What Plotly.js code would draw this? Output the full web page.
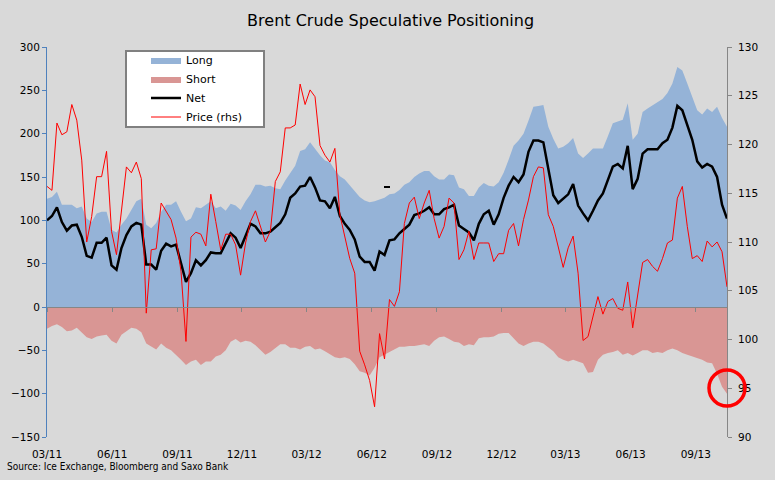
<!DOCTYPE html>
<html>
<head>
<meta charset="utf-8">
<script src="https://cdn.plot.ly/plotly-3.0.1.min.js"></script>
<style>html,body{margin:0;padding:0;background:#D9D9D9;}#chart{width:775px;height:480px;}</style>
</head>
<body>
<div id="chart"></div>
<script>
// Weekly observations (Tuesdays) starting 2011-03-01
const startDate = '2011-03-01';
const weeks = 138;

const longPos = [
125,127,133,118,118,118,114,116,102,98,
108,110,110,89,86,95,102,112,122,125,
95,91,97,110,118,118,122,110,99,102,
115,114,118,122,114,116,111,119,117,112,
122,130,141,141,139,140,137,136,146,155,
163,180,182,190,182,175,169,167,158,151,
147,140,133,127,123,121,122,124,126,130,
131,135,141,144,150,154,157,157,151,147,
147,153,152,138,136,128,128,138,143,140,
139,144,155,170,186,192,200,215,231,232,
233,208,194,183,185,189,195,177,172,177,
183,183,183,197,212,214,216,235,193,200,
225,229,233,237,240,247,258,277,273,258,
243,227,222,229,225,231,218,208
];

const shortPos = [
-25,-22,-20,-23,-28,-27,-24,-29,-35,-37,
-34,-33,-32,-39,-42,-32,-28,-24,-25,-29,
-42,-46,-49,-42,-47,-50,-55,-61,-67,-63,
-61,-67,-63,-63,-57,-55,-50,-40,-37,-41,
-39,-40,-44,-50,-55,-52,-48,-43,-43,-47,
-47,-49,-46,-45,-49,-48,-51,-55,-58,-59,
-58,-60,-66,-74,-76,-79,-70,-58,-55,-52,
-49,-46,-46,-45,-45,-44,-43,-45,-39,-35,
-34,-37,-40,-41,-45,-43,-44,-36,-35,-35,
-34,-31,-30,-30,-36,-42,-45,-42,-40,-40,
-42,-46,-51,-58,-61,-63,-61,-63,-65,-76,
-75,-61,-55,-53,-52,-50,-55,-53,-56,-53,
-50,-50,-53,-52,-53,-50,-48,-50,-53,-55,
-57,-59,-61,-64,-65,-77,-92,-100
];

const netPos = [
100,105,115,98,88,94,95,81,59,57,
74,74,80,48,43,68,83,93,97,95,
49,49,43,65,73,70,72,52,29,39,
54,48,54,63,62,62,74,85,80,68,
82,96,93,85,85,87,92,97,107,126,
131,139,140,150,138,123,122,114,127,105,
96,89,78,58,52,52,42,64,60,77,
78,85,90,95,106,108,111,115,107,107,
113,115,118,94,90,86,77,96,107,111,
95,107,126,140,150,144,153,179,192,192,
190,158,129,120,125,130,142,117,108,100,
111,123,131,147,162,165,160,186,136,148,
177,182,182,182,189,193,207,232,227,210,
193,168,161,165,162,150,118,102
];

const price = [
115.7,115.3,122.2,121.0,121.3,124.1,122.5,118.4,110.0,112.6,
116.7,116.7,119.3,111.1,108.7,113.5,117.7,117.1,118.2,116.5,
102.7,109.2,109.3,114.0,113.1,112.3,110.4,107.0,99.8,110.5,
111.0,110.8,109.6,114.9,112.1,109.2,110.8,110.8,109.7,106.6,
109.9,112.1,113.2,111.6,110.0,111.1,116.2,117.2,121.7,121.7,
122.0,126.2,124.1,125.6,124.9,119.9,118.9,118.2,119.6,112.8,
110.7,108.3,106.8,98.8,97.4,95.8,93.1,100.6,98.0,104.1,
103.4,104.9,111.9,114.0,114.6,112.4,114.0,115.3,112.4,110.4,
111.6,114.5,114.0,108.2,109.2,111.1,108.2,109.9,109.9,109.9,
108.0,108.8,108.8,111.2,111.9,109.6,112.3,114.3,116.7,117.7,
117.6,112.8,111.6,109.5,107.4,109.4,110.6,106.8,99.9,100.3,
102.3,104.4,102.6,103.9,104.2,103.2,103.0,105.9,101.2,104.7,
107.9,108.2,107.5,107.0,108.3,109.9,110.2,114.5,115.7,111.6,
108.3,108.6,108.0,110.1,109.5,110.0,109.0,105.4
];

const tickDates = ['2011-03-01','2011-06-01','2011-09-01','2011-12-01','2012-03-01','2012-06-01',
                   '2012-09-01','2012-12-01','2013-03-01','2013-06-01','2013-09-01'];
const tickLabels = ['03/11','06/11','09/11','12/11','03/12','06/12','09/12','12/12','03/13','06/13','09/13'];

// build weekly date categories
const dates = [];
const t0 = Date.parse(startDate + 'T00:00:00Z');
for (let i = 0; i < weeks; i++) {
  dates.push(new Date(t0 + i * 7 * 86400000).toISOString().slice(0, 10));
}
const xRange = [dates[0], dates[dates.length - 1]];

const FONT = 'DejaVu Sans, Verdana, sans-serif';

const traces = [
  {x: dates, y: longPos, name: 'Long', type: 'scatter', mode: 'lines', fill: 'tozeroy',
   fillcolor: '#95B3D7', line: {width: 0, color: '#95B3D7'}, hoverinfo: 'skip'},
  {x: dates, y: shortPos, name: 'Short', type: 'scatter', mode: 'lines', fill: 'tozeroy',
   fillcolor: '#D99694', line: {width: 0, color: '#D99694'}, hoverinfo: 'skip'},
  {x: dates, y: netPos, name: 'Net', type: 'scatter', mode: 'lines',
   line: {width: 2.5, color: '#000000'}, hoverinfo: 'skip'},
  {x: dates, y: price, name: 'Price (rhs)', type: 'scatter', mode: 'lines',
   xaxis: 'x2', yaxis: 'y2', line: {width: 1, color: '#FF0000'}, hoverinfo: 'skip'}
];

// pixel helpers for paper coordinates (plot area 47..727 x 47..437)
const px = v => (v - 47) / 680;
const py = v => (437 - v) / 390;

const layout = {
  width: 775, height: 480,
  margin: {l: 47, r: 48, t: 47, b: 43, pad: 0},
  paper_bgcolor: '#D9D9D9', plot_bgcolor: '#D9D9D9',
  font: {family: FONT, size: 10.5, color: '#000'},
  title: {text: 'Brent Crude Speculative Positioning', x: 0.504, xanchor: 'center',
          y: 1 - 20 / 480, yanchor: 'middle', font: {family: FONT, size: 16, color: '#000'}},
  showlegend: true,
  legend: {x: px(146), y: py(45.5), xanchor: 'left', yanchor: 'top',
           bgcolor: 'rgba(0,0,0,0)', borderwidth: 0, font: {family: FONT, size: 11, color: '#000'},
           tracegroupgap: 0},
  xaxis: {type: 'date', range: xRange, tickvals: tickDates, ticktext: tickLabels,
          ticks: '', showline: false, showgrid: false, zeroline: false, ticklabelstandoff: 9,
          tickfont: {family: FONT, size: 10.5, color: '#000'}, fixedrange: true},
  xaxis2: {type: 'date', range: xRange, overlaying: 'x', anchor: 'free', position: 1 / 3,
           tickvals: tickDates, showticklabels: false, ticks: 'outside', ticklen: 4,
           tickcolor: '#868686', showline: true, linecolor: '#868686', linewidth: 1,
           showgrid: false, zeroline: false, fixedrange: true},
  yaxis: {range: [-150, 300], dtick: 50, tick0: 0, ticks: 'outside', ticklen: 4,
          tickcolor: '#4F81BD', showline: true, linecolor: '#4F81BD', linewidth: 1,
          showgrid: false, zeroline: false, tickfont: {family: FONT, size: 10.5, color: '#000'},
          fixedrange: true},
  yaxis2: {range: [90, 130], dtick: 5, tick0: 90, overlaying: 'y', side: 'right', anchor: 'x',
           ticks: 'outside', ticklen: 4, tickcolor: '#868686', showline: true,
           linecolor: '#868686', linewidth: 1, showgrid: false, zeroline: false,
           tickfont: {family: FONT, size: 10.5, color: '#000'}, ticklabelstandoff: 4, fixedrange: true},
  shapes: [
    {type: 'rect', xref: 'paper', yref: 'paper', x0: px(126), x1: px(264), y0: py(127), y1: py(51),
     fillcolor: '#FFFFFF', line: {color: '#808080', width: 2}, layer: 'above'},
    {type: 'circle', xref: 'paper', yref: 'paper', x0: px(709), x1: px(745), y0: py(406), y1: py(370),
     line: {color: '#FF0000', width: 3.5}, layer: 'above'},
    {type: 'line', xref: 'paper', yref: 'paper', x0: px(384), x1: px(390), y0: py(187), y1: py(187),
     line: {color: '#000000', width: 2}, layer: 'above'}
  ],
  annotations: [
    {text: 'Source: Ice Exchange, Bloomberg and Saxo Bank', xref: 'paper', yref: 'paper',
     x: px(5), y: py(466), xanchor: 'left', yanchor: 'middle', showarrow: false,
     font: {family: 'DejaVu Sans Condensed, Liberation Sans Narrow, Liberation Sans, sans-serif', size: 10, color: '#000'}}
  ]
};

Plotly.newPlot('chart', traces, layout, {displayModeBar: false, staticPlot: true});
</script>
</body>
</html>
